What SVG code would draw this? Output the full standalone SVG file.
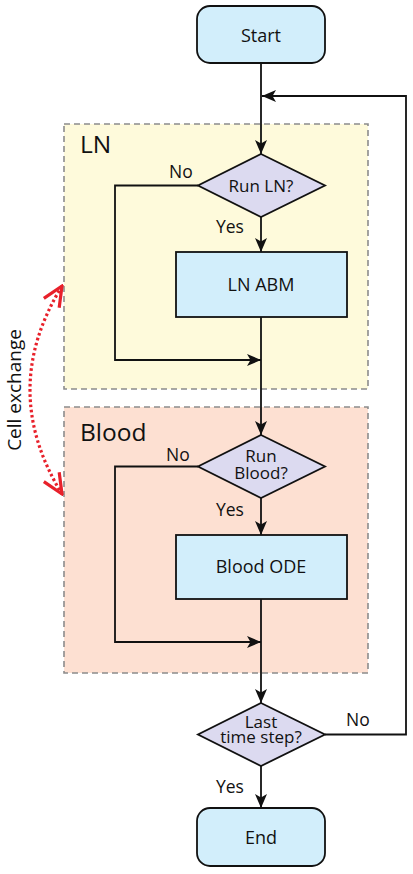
<svg xmlns="http://www.w3.org/2000/svg" width="413" height="874" viewBox="0 0 413 874">
<style>
text{font-family:"Open Sans","Liberation Sans",sans-serif;fill:#111;}
.lbl{font-size:18px;text-anchor:middle;}
.dtx{font-size:17px;text-anchor:middle;}
.yn{font-size:17.5px;}
.term{fill:#d2eefb;stroke:#111;stroke-width:1.8;}
.proc{fill:#d2eefb;stroke:#111;stroke-width:1.8;}
.dec{fill:#dcdaf0;stroke:#111;stroke-width:1.8;}
.region{stroke:#8c8c8c;stroke-width:1.6;stroke-dasharray:6 4;}
.conn{fill:none;stroke:#111;stroke-width:1.8;}
.title{font-size:24.5px;}
</style>
<defs>
<marker id="ah" viewBox="0 0 14 12" refX="14" refY="6" markerWidth="14" markerHeight="12" markerUnits="userSpaceOnUse" orient="auto">
<path d="M0,0 L14,6 L0,12 L3.5,6 Z" fill="#111"/>
</marker>
<marker id="rh" viewBox="0 0 24 24" refX="22" refY="12" markerWidth="24" markerHeight="24" markerUnits="userSpaceOnUse" orient="auto-start-reverse">
<path d="M2,3 L22,12 L2,21" fill="none" stroke="#e8202a" stroke-width="3.2"/>
</marker>
</defs>
<g id="region-ln">
<rect x="64" y="124" width="304" height="265" fill="#fefadb" class="region"/>
<text x="80" y="153" class="title">LN</text>
</g>
<g id="region-blood">
<rect x="64" y="407" width="304" height="266" fill="#fde0d2" class="region"/>
<text x="80" y="441" class="title">Blood</text>
</g>
<g id="connectors">
<path class="conn" d="M261,63 V154" marker-end="url(#ah)"/>
<path class="conn" d="M325,734.5 H406 V96 H262" marker-end="url(#ah)"/>
<path class="conn" d="M261,217 V252" marker-end="url(#ah)"/>
<path class="conn" d="M198,185.5 H115 V360 H261" marker-end="url(#ah)"/>
<path class="conn" d="M261,317 V435" marker-end="url(#ah)"/>
<path class="conn" d="M261,498 V535" marker-end="url(#ah)"/>
<path class="conn" d="M198,466.5 H115 V642 H261" marker-end="url(#ah)"/>
<path class="conn" d="M261,599 V703" marker-end="url(#ah)"/>
<path class="conn" d="M261,766 V808" marker-end="url(#ah)"/>
<text x="169" y="178" class="yn">No</text>
<text x="216" y="233" class="yn">Yes</text>
<text x="166" y="461" class="yn">No</text>
<text x="216" y="516" class="yn">Yes</text>
<text x="346" y="726" class="yn">No</text>
<text x="216" y="793" class="yn">Yes</text>
</g>
<g id="cell-exchange">
<path d="M62,286 Q-2,390 62,494" fill="none" stroke="#e8202a" stroke-width="3.2" stroke-dasharray="2.6 2.6" marker-start="url(#rh)" marker-end="url(#rh)"/>
<text transform="translate(21,390) rotate(-90)" text-anchor="middle" font-size="19">Cell exchange</text>
</g>
<g id="start">
<rect x="197" y="6" width="128" height="57" rx="13" class="term"/>
<text x="261" y="42" class="lbl">Start</text>
</g>
<g id="run-ln">
<polygon points="261,154 325,185.5 261,217 198,185.5" class="dec"/>
<text x="261" y="192" class="dtx">Run LN?</text>
</g>
<g id="ln-abm">
<rect x="176" y="252" width="171" height="65" class="proc"/>
<text x="261" y="291" class="lbl">LN ABM</text>
</g>
<g id="run-blood">
<polygon points="261,435 325,466.5 261,498 198,466.5" class="dec"/>
<text x="261" y="462" class="dtx">Run<tspan x="261" dy="17">Blood?</tspan></text>
</g>
<g id="blood-ode">
<rect x="176" y="535" width="171" height="64" class="proc"/>
<text x="261" y="573" class="lbl">Blood ODE</text>
</g>
<g id="last-step">
<polygon points="261,703 325,734.5 261,766 198,734.5" class="dec"/>
<text x="261" y="728" class="dtx">Last<tspan x="261" dy="15">time step?</tspan></text>
</g>
<g id="end">
<rect x="197" y="808" width="128" height="58" rx="13" class="term"/>
<text x="261" y="844" class="lbl">End</text>
</g>
</svg>
